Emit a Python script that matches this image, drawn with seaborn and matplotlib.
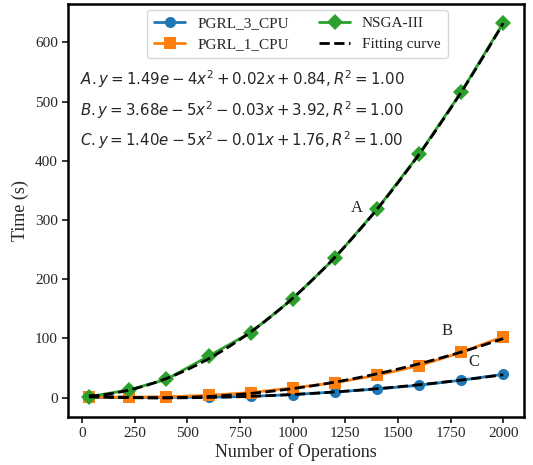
import numpy as np
import pandas as pd
import matplotlib
matplotlib.use("Agg")
import matplotlib.pyplot as plt
import seaborn as sns

# Number of operations per problem instance
operations = [32, 222, 400, 600, 800, 1000, 1200, 1400, 1600, 1800, 2000]

# Run time in seconds
pgrl_3_cpu = [0.3, 0.5, 0.6, 0.8, 2.2, 5.2, 9.6, 14.7, 21.0, 29.5, 39.5]
pgrl_1_cpu = [1.0, 0.8, 1.5, 4.0, 8.5, 16.5, 25.3, 37.8, 54.0, 76.5, 103.0]
nsga_iii = [1.7, 13.0, 31.0, 70.0, 110.0, 167.0, 236.0, 318.0, 411.0, 516.0, 633.0]

series_names = ["PGRL_3_CPU", "PGRL_1_CPU", "NSGA-III"]
series_values = [pgrl_3_cpu, pgrl_1_cpu, nsga_iii]
series_markers = ["o", "s", "D"]
series_colors = ["#1f77b4", "#ff7f0e", "#2ca02c"]

equations = [
    r"$A.y=1.49e-4x^2+0.02x+0.84,R^2=1.00$",
    r"$B.y=3.68e-5x^2-0.03x+3.92,R^2=1.00$",
    r"$C.y=1.40e-5x^2-0.01x+1.76,R^2=1.00$",
]
curve_tags = ["A", "B", "C"]
tag_positions = [(1305, 320), (1733, 112), (1860, 61)]

sns.set_style("ticks")
plt.rcParams["font.family"] = ["Liberation Serif", "DejaVu Serif"]
plt.rcParams["mathtext.fontset"] = "dejavusans"

fig = plt.figure(figsize=(5.33, 4.65), dpi=100)
ax = fig.add_axes([0.128, 0.104, 0.855, 0.887])

df = pd.DataFrame({"x": operations})
for name, vals, mk, col in zip(series_names, series_values, series_markers, series_colors):
    df[name] = vals
    sns.lineplot(data=df, x="x", y=name, ax=ax, color=col, marker=mk,
                 markersize=8, linewidth=2, markeredgewidth=0, label=name)

# Quadratic fitting curves over each series
xs = np.linspace(min(operations), max(operations), 200)
for i, vals in enumerate([nsga_iii, pgrl_1_cpu, pgrl_3_cpu]):
    coef = np.polyfit(operations, vals, 2)
    ax.plot(xs, np.polyval(coef, xs), "k--", linewidth=2,
            label="Fitting curve" if i == 0 else None, zorder=5)

for tag, (tx, ty) in zip(curve_tags, tag_positions):
    ax.text(tx, ty, tag, fontsize=12, ha="center", va="center")

eq_y = [0.818, 0.744, 0.670]
for eq, yy in zip(equations, eq_y):
    ax.text(0.026, yy, eq, transform=ax.transAxes,
            fontsize=10.8, ha="left", va="center")

ax.set_xlabel("Number of Operations", fontsize=13, labelpad=2)
ax.set_ylabel("Time (s)", fontsize=13, labelpad=4)
ax.tick_params(labelsize=11, direction="out", length=4, width=1.3)
for s in ax.spines.values():
    s.set_linewidth(1.8)
    s.set_color("black")

handles, labels = ax.get_legend_handles_labels()
ax.legend(handles, labels, loc="upper center", ncol=2, fontsize=11,
          frameon=True, handlelength=2.0, columnspacing=2.0,
          borderpad=0.45, labelspacing=0.5, borderaxespad=0.35,
          bbox_to_anchor=(0.503, 1.0))

fig.savefig("out.png", dpi=100)
